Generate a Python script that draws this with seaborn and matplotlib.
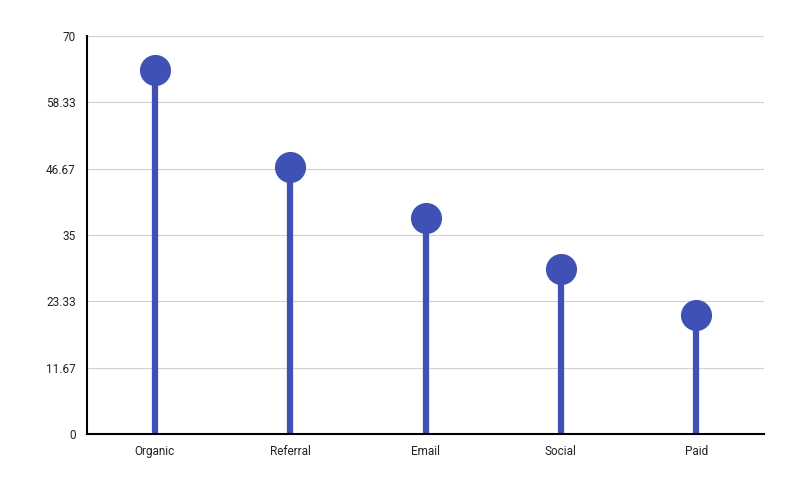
import matplotlib
matplotlib.use("Agg")
import matplotlib.pyplot as plt
import seaborn as sns
import pandas as pd

categories = ["Organic", "Referral", "Email", "Social", "Paid"]
values = [64, 47, 38, 29, 21]
ytick_vals = [0, 11.67, 23.33, 35, 46.67, 58.33, 70]
ytick_labels = ["0", "11.67", "23.33", "35", "46.67", "58.33", "70"]

sns.set_style("white")
plt.rcParams['font.family'] = ['Roboto', 'DejaVu Sans']

df = pd.DataFrame({"cat": categories, "val": values})
fig = plt.figure(figsize=(8, 5), dpi=100)
ax = fig.add_axes([87/800, 1-434/500, (764-87)/800, (434-36)/500])
color = "#3F51B5"
x = list(range(len(categories)))
ax.vlines(x, 0, df["val"], color=color, linewidth=4.5, zorder=2)
sns.scatterplot(data=df, x="cat", y="val", ax=ax, s=430, color=color, edgecolor=color, zorder=3, legend=False)
ax.set_xlim(-0.5, 4.5)
ax.set_ylim(0, 70)
ax.set_yticks(ytick_vals)
ax.set_yticklabels(ytick_labels)
ax.set_xlabel("")
ax.set_ylabel("")
ax.grid(axis="y", color="#d0d0d0", linewidth=0.8, zorder=0)
ax.set_axisbelow(True)
for s in ["top", "right"]:
    ax.spines[s].set_visible(False)
for s in ["left", "bottom"]:
    ax.spines[s].set_color("black")
    ax.spines[s].set_linewidth(1.5)
ax.tick_params(axis="both", length=0, labelsize=8.5, colors="#222222", pad=8)
fig.savefig("out.png", dpi=100)
